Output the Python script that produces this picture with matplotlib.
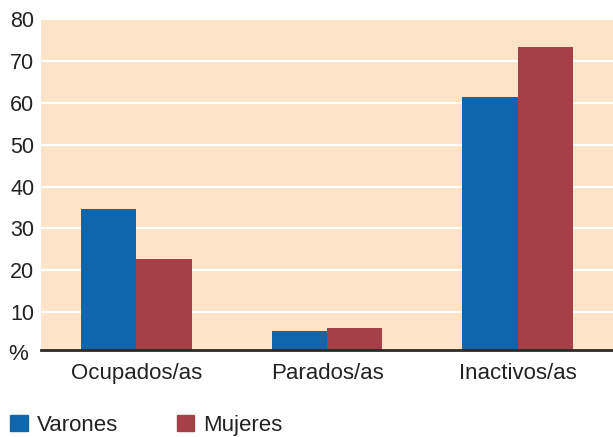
import matplotlib
matplotlib.use("Agg")
import matplotlib.pyplot as plt
import numpy as np
from matplotlib.patches import Patch

categories = ["Ocupados/as", "Parados/as", "Inactivos/as"]
varones = [34.7, 5.6, 61.3]
mujeres = [22.6, 6.3, 73.3]
yticks = [10, 20, 30, 40, 50, 60, 70, 80]

blue = "#1166ab"
red = "#a54146"
bg = "#fde4c9"

plt.rcParams["font.family"] = ["Liberation Sans", "DejaVu Sans"]

fig = plt.figure(figsize=(6.13, 4.37), dpi=100)
ax = fig.add_axes([0.067, 0.198, 0.933, 0.759])
ax.set_facecolor(bg)

x = np.arange(len(categories))
w = 0.29
ax.bar(x - w / 2, varones, w, color=blue, zorder=3)
ax.bar(x + w / 2, mujeres, w, color=red, zorder=3)

ax.set_xlim(-0.5, 2.5)
ax.set_ylim(0.9, 80)
ax.set_yticks(yticks)
ax.set_yticklabels([str(t) for t in yticks])
ax.yaxis.grid(True, color="white", linewidth=1.6, zorder=1)
ax.set_axisbelow(True)

ax.set_xticks(x)
ax.set_xticklabels(categories)
ax.tick_params(axis="both", length=0, colors="#222222")
ax.tick_params(axis="x", pad=9, labelsize=16)
ax.tick_params(axis="y", pad=5, labelsize=15.5)

for s in ["top", "right", "left"]:
    ax.spines[s].set_visible(False)
ax.spines["bottom"].set_color("#2a2a2a")
ax.spines["bottom"].set_linewidth(2)
ax.spines["bottom"].set_zorder(4)

ax.text(-0.022, 2.5, "%", transform=ax.get_yaxis_transform(), ha="right",
        va="top", fontsize=16, color="#222222")

handles = [Patch(color=blue, label="Varones"), Patch(color=red, label="Mujeres")]
fig.legend(handles=handles, loc="lower left", bbox_to_anchor=(0.016, 0.003),
           borderaxespad=0, borderpad=0,
           ncol=2, frameon=False, fontsize=16, handlelength=0.8,
           handleheight=0.75, handletextpad=0.4, columnspacing=2.65,
           labelcolor="#222222")

fig.savefig("out.png", dpi=100)
